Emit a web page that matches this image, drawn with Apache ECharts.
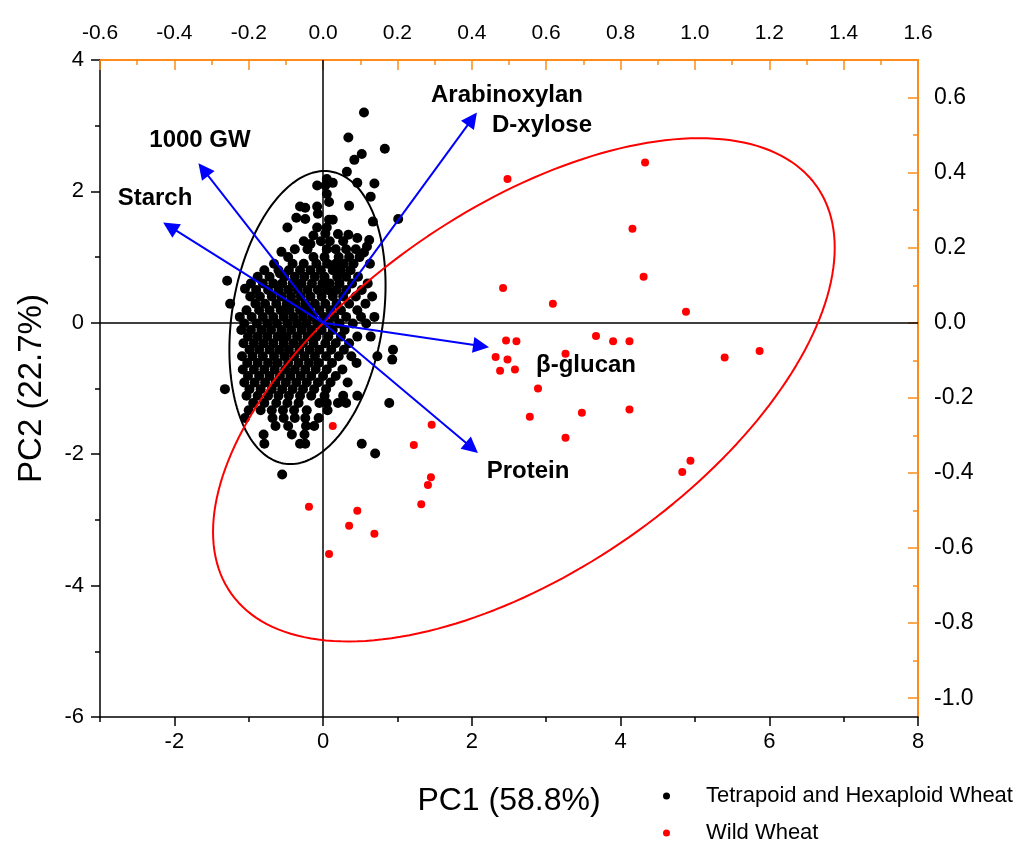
<!DOCTYPE html>
<html>
<head>
<meta charset="utf-8">
<title>PCA biplot</title>
<script src="https://cdn.jsdelivr.net/npm/echarts@6/dist/echarts.min.js"></script>
<style>
  html, body { margin: 0; padding: 0; background: #fff; }
  #main { width: 1013px; height: 845px; }
</style>
</head>
<body>
<div id="main"></div>
<script>
// ---- data ----
// scores, PC1 / PC2 (bottom / left axes)
var wildWheat = [
  [2.48, 2.19], [4.33, 2.44], [4.16, 1.43], [4.31, 0.70], [2.42, 0.53], [3.09, 0.29], [4.88, 0.17],
  [2.46, -0.27], [2.60, -0.28], [2.32, -0.52], [2.48, -0.56], [2.38, -0.73], [2.58, -0.71],
  [3.26, -0.47], [3.67, -0.20], [3.90, -0.28], [4.12, -0.28], [5.40, -0.53], [5.87, -0.43],
  [2.89, -1.00], [2.78, -1.43], [3.48, -1.37], [4.12, -1.32], [3.26, -1.75], [1.46, -1.55],
  [4.94, -2.10], [4.83, -2.27], [0.13, -1.57], [1.22, -1.86], [1.45, -2.35], [1.41, -2.47],
  [1.32, -2.76], [-0.19, -2.80], [0.46, -2.86], [0.35, -3.09], [0.69, -3.21], [0.08, -3.52]
];

// sparse part of the tetraploid / hexaploid cloud
var tetraHexaOuter = [
  [0.55, 3.20], [0.34, 2.82], [0.52, 2.57], [0.83, 2.65], [0.42, 2.48], [0.32, 2.30], [0.46, 2.13],
  [0.69, 2.12], [0.64, 1.92], [1.01, 1.58], [0.35, 1.78], [0.67, 1.54], [0.05, 2.19], [0.13, 2.13],
  [-0.08, 2.09], [0.03, 2.09], [0.05, 1.96], [-0.31, 1.77], [-0.24, 1.75], [-0.08, 1.77], [-0.07, 1.66],
  [0.08, 1.84], [-0.36, 1.60], [-0.24, 1.58], [-0.48, 1.45], [-0.08, 1.45], [0.08, 1.57], [0.13, 1.57],
  [-0.56, 1.08], [-1.29, 0.64], [-1.05, 0.52], [-0.13, 1.33], [-0.17, 1.20], [0.20, 1.35],
  [0.34, 1.34], [0.46, 1.29], [0.62, 1.26], [0.55, 1.07], [0.59, 1.16], [0.05, 1.45], [0.03, 1.36],
  [-0.58, 0.75], [0.93, -0.56], [0.70, -1.99], [0.52, -1.84], [-0.55, -2.31]
];

// dense core, one row per PC2 level: [pc2, [pc1 values]]
var tetraHexaRows = [
  [1.24, [-0.26, -0.03, 0.09, 0.27]],
  [1.12, [-0.38, -0.21, 0.05, 0.17, 0.31, 0.44]],
  [1.00, [-0.47, -0.13, 0.02, 0.21, 0.35, 0.49]],
  [0.90, [-0.66, -0.41, -0.26, -0.09, 0.06, 0.17, 0.28, 0.41, 0.63]],
  [0.80, [-0.79, -0.60, -0.46, -0.31, -0.17, -0.03, 0.13, 0.24, 0.37]],
  [0.70, [-0.88, -0.72, -0.52, -0.38, -0.25, -0.11, 0.02, 0.19, 0.31, 0.47]],
  [0.60, [-0.97, -0.81, -0.67, -0.55, -0.41, -0.29, -0.15, -0.01, 0.09, 0.22, 0.39, 0.60]],
  [0.50, [-0.90, -0.74, -0.60, -0.47, -0.34, -0.21, -0.07, 0.06, 0.18, 0.31, 0.52]],
  [0.40, [-0.98, -0.85, -0.69, -0.56, -0.43, -0.30, -0.17, -0.02, 0.13, 0.27, 0.44, 0.66]],
  [0.29, [-1.25, -0.91, -0.78, -0.63, -0.49, -0.37, -0.24, -0.11, 0.03, 0.18, 0.35, 0.57]],
  [0.19, [-1.03, -0.86, -0.72, -0.57, -0.45, -0.31, -0.19, -0.05, 0.10, 0.24, 0.46]],
  [0.09, [-1.12, -0.96, -0.81, -0.67, -0.53, -0.40, -0.27, -0.14, 0.01, 0.15, 0.31, 0.51, 0.69]],
  [-0.01, [-1.06, -0.89, -0.75, -0.62, -0.48, -0.35, -0.22, -0.08, 0.07, 0.22, 0.40, 0.58]],
  [-0.11, [-1.10, -0.97, -0.83, -0.70, -0.56, -0.43, -0.29, -0.16, -0.02, 0.13, 0.29]],
  [-0.21, [-1.01, -0.88, -0.75, -0.61, -0.49, -0.35, -0.21, -0.09, 0.07, 0.24, 0.46, 0.64]],
  [-0.31, [-1.07, -0.93, -0.80, -0.67, -0.53, -0.40, -0.27, -0.13, 0.03, 0.17, 0.35]],
  [-0.41, [-0.99, -0.86, -0.72, -0.59, -0.46, -0.32, -0.18, -0.05, 0.11, 0.28, 0.94]],
  [-0.51, [-1.09, -0.95, -0.81, -0.66, -0.52, -0.39, -0.25, -0.11, 0.04, 0.21, 0.38, 0.73]],
  [-0.61, [-1.02, -0.88, -0.74, -0.61, -0.47, -0.33, -0.19, -0.06, 0.12, 0.45]],
  [-0.71, [-1.08, -0.93, -0.79, -0.65, -0.51, -0.38, -0.24, -0.10, 0.05, 0.26]],
  [-0.81, [-1.01, -0.86, -0.72, -0.58, -0.44, -0.30, -0.16, 0.00, 0.17]],
  [-0.91, [-1.06, -0.92, -0.78, -0.64, -0.50, -0.36, -0.22, -0.07, 0.10, 0.33]],
  [-1.01, [-1.32, -0.99, -0.84, -0.69, -0.55, -0.41, -0.27, -0.12, 0.04]],
  [-1.11, [-1.03, -0.88, -0.74, -0.60, -0.46, -0.31, -0.16, 0.02, 0.27, 0.46]],
  [-1.22, [-0.94, -0.79, -0.63, -0.48, -0.33, -0.05, 0.05, 0.20, 0.31, 0.89]],
  [-1.33, [-1.00, -0.84, -0.69, -0.54, -0.39, -0.22, 0.06]],
  [-1.45, [-1.05, -0.68, -0.53, -0.38, -0.24, -0.06]],
  [-1.57, [-0.64, -0.47, -0.23, -0.12]],
  [-1.70, [-0.80, -0.42, -0.25]],
  [-1.84, [-0.79, -0.31, -0.24]]
];

// confidence ellipses: [centre pc1, centre pc2, half width, half height, tilt phase]
var tetraHexaEllipse = [-0.21, 0.08, 1.05, 2.23, 0.22];
var wildEllipse = [2.70, -1.02, 4.18, 3.83, 0.60];

// loadings (top / right axes)
var loadingNames = ['Arabinoxylan / D-xylose', '1000 GW', 'Starch', 'β-glucan', 'Protein'];
var loadingX = [0.401, -0.322, -0.412, 0.425, 0.400];
var loadingY = [0.543, 0.408, 0.256, -0.062, -0.333];

// tick labels
var pc1Ticks = [-2, 0, 2, 4, 6, 8];
var pc1MinorTicks = [-3, -1, 1, 3, 5, 7];
var rightTicks = [-1.0, -0.8, -0.6, -0.4, -0.2, 0.0, 0.2, 0.4, 0.6];
var rightMinorTicks = [-0.9, -0.7, -0.5, -0.3, -0.1, 0.1, 0.3, 0.5];

// ---- build ----
var tetraHexa = tetraHexaOuter.slice();
tetraHexaRows.forEach(function (row) {
  row[1].forEach(function (x) { tetraHexa.push([x, row[0]]); });
});

function ellipsePoints(e) {
  var pts = [];
  for (var i = 0; i <= 200; i++) {
    var t = i / 200 * 2 * Math.PI;
    pts.push([e[0] + e[2] * Math.cos(t), e[1] + e[3] * Math.sin(t + e[4])]);
  }
  return pts;
}

var arrows = loadingX.map(function (x, i) {
  return { name: loadingNames[i], coords: [[0, 0], [x, loadingY[i]]] };
});

var FONT = '"Liberation Sans", Arial, sans-serif';
var ORANGE = '#ff8c1a';

function label(text, x, y) {
  return { type: 'text', x: x, y: y, z: 10,
    style: { text: text, font: 'bold 24px ' + FONT, fill: '#000', textAlign: 'center', textVerticalAlign: 'middle' } };
}

function legendBox(name, top) {
  return {
    orient: 'vertical', left: 658, top: top,
    icon: 'circle', itemWidth: 7, itemHeight: 7,
    textStyle: { fontSize: 22, color: '#000', fontFamily: FONT, padding: [0, 0, 0, 31] },
    data: [name]
  };
}

var chart = echarts.init(document.getElementById('main'));
var option = {
  animation: false,
  textStyle: { fontFamily: FONT },
  grid: { left: 100, top: 60, width: 818, height: 657 },
  legend: [
    legendBox('Tetrapoid and Hexaploid Wheat', 780),
    legendBox('Wild Wheat', 817)
  ],
  xAxis: [
    {
      type: 'value', position: 'bottom', min: -3, max: 8,
      name: 'PC1 (58.8%)', nameLocation: 'middle', nameGap: 68,
      nameTextStyle: { fontSize: 32, color: '#000', fontFamily: FONT },
      axisLine: { onZero: false, lineStyle: { color: '#000', width: 1.5 } },
      axisTick: { customValues: pc1Ticks, length: 9, lineStyle: { color: '#000', width: 1.5 } },
      axisLabel: { customValues: pc1Ticks, fontSize: 22, color: '#000', margin: 14 },
      splitLine: { show: false }
    },
    {
      type: 'value', position: 'top', min: -0.6, max: 1.6, interval: 0.2,
      axisLine: { onZero: false, lineStyle: { color: ORANGE, width: 2 } },
      axisTick: { inside: true, length: 10, lineStyle: { color: ORANGE, width: 1.5 } },
      minorTick: { show: true, splitNumber: 2, length: 5, lineStyle: { color: ORANGE, width: 1.5 } },
      axisLabel: { fontSize: 21, color: '#000', margin: 16, formatter: function (v) { return v.toFixed(1); } },
      splitLine: { show: false }
    },
    {
      type: 'value', position: 'bottom', min: -3, max: 8,
      axisLine: { show: false, onZero: false },
      axisTick: { customValues: pc1MinorTicks, length: 5, lineStyle: { color: '#000', width: 1.5 } },
      axisLabel: { show: false },
      splitLine: { show: false }
    }
  ],
  yAxis: [
    {
      type: 'value', position: 'left', min: -6, max: 4, interval: 2,
      name: 'PC2 (22.7%)', nameLocation: 'middle', nameGap: 52,
      nameTextStyle: { fontSize: 33, color: '#000', fontFamily: FONT },
      axisLine: { onZero: false, lineStyle: { color: '#000', width: 1.5 } },
      axisTick: { length: 9, lineStyle: { color: '#000', width: 1.5 } },
      minorTick: { show: true, splitNumber: 2, length: 5, lineStyle: { color: '#000', width: 1.5 } },
      axisLabel: { fontSize: 22, color: '#000', margin: 16 },
      splitLine: { show: false }
    },
    {
      type: 'value', position: 'right', min: -1.05, max: 0.7,
      axisLine: { onZero: false, lineStyle: { color: ORANGE, width: 2 } },
      axisTick: { inside: true, customValues: rightTicks, length: 10, lineStyle: { color: ORANGE, width: 1.5 } },
      axisLabel: { customValues: rightTicks, fontSize: 23, color: '#000', margin: 16,
        formatter: function (v) { return v.toFixed(1); } },
      splitLine: { show: false }
    },
    {
      type: 'value', position: 'right', min: -1.05, max: 0.7,
      axisLine: { show: false, onZero: false },
      axisTick: { inside: true, customValues: rightMinorTicks, length: 5, lineStyle: { color: ORANGE, width: 1.5 } },
      axisLabel: { show: false },
      splitLine: { show: false }
    }
  ],
  graphic: [
    label('Arabinoxylan', 507, 95),
    label('D-xylose', 542, 125),
    label('1000 GW', 200, 140),
    label('Starch', 155, 198),
    label('β-glucan', 586, 365),
    label('Protein', 528, 471)
  ],
  series: [
    {
      name: 'Tetrapoid and Hexaploid Wheat', type: 'scatter', data: tetraHexa,
      symbolSize: 10, itemStyle: { color: '#000', opacity: 1 }, z: 2,
      markLine: {
        silent: true, symbol: 'none', z: 1, label: { show: false },
        lineStyle: { color: '#000', width: 1.5, type: 'solid' },
        data: [{ xAxis: 0 }, { yAxis: 0 }]
      }
    },
    {
      name: 'Wild Wheat', type: 'scatter', data: wildWheat,
      symbolSize: 8, itemStyle: { color: '#ff0000', opacity: 1 }, z: 3
    },
    {
      type: 'line', data: ellipsePoints(tetraHexaEllipse), showSymbol: false, silent: true,
      lineStyle: { color: '#000', width: 2 }, z: 4
    },
    {
      type: 'line', data: ellipsePoints(wildEllipse), showSymbol: false, silent: true,
      lineStyle: { color: '#ff0000', width: 2 }, z: 4
    },
    {
      type: 'lines', coordinateSystem: 'cartesian2d', xAxisIndex: 1, yAxisIndex: 1,
      data: arrows, silent: true, z: 5,
      symbol: ['none', 'triangle'], symbolSize: [0, 16],
      lineStyle: { color: '#0000ff', width: 2, opacity: 1 },
      itemStyle: { color: '#0000ff' }
    }
  ]
};
chart.setOption(option);
</script>
</body>
</html>
